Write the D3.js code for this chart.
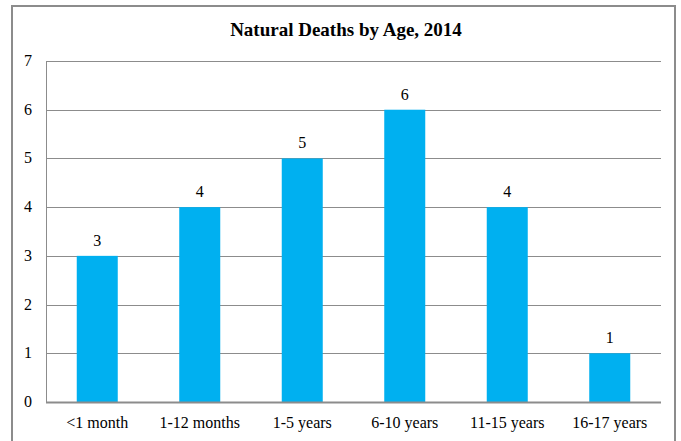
<!DOCTYPE html>
<html>
<head>
<meta charset="utf-8">
<script src="https://cdn.jsdelivr.net/npm/d3@7"></script>
<style>
  body { margin: 0; background: #fff; }
  text { font-family: "Liberation Serif", "DejaVu Serif", serif; fill: #000; }
</style>
</head>
<body>
<svg id="canvas" width="681" height="441"></svg>
<script>
// data
var categories = ['<1 month', '1-12 months', '1-5 years', '6-10 years', '11-15 years', '16-17 years'];
var deaths = [3, 4, 5, 6, 4, 1];
var yTicks = [0, 1, 2, 3, 4, 5, 6, 7];
var title = 'Natural Deaths by Age, 2014';

var svg = d3.select('#canvas');

// outer chart border (bottom edge runs off the picture)
svg.append('rect')
  .attr('x', 12).attr('y', 6).attr('width', 663).attr('height', 450)
  .attr('fill', '#fff').attr('stroke', '#8c8c8c').attr('stroke-width', 2);

var plot_l = 46, plot_r = 661, plot_t = 61, plot_b = 402;

var x = d3.scaleBand().domain(categories).range([plot_l, plot_r]).paddingInner(0.6).paddingOuter(0.3);
var y = d3.scaleLinear().domain([0, 7]).range([plot_b, plot_t]);

// gridlines
svg.append('g').selectAll('line').data(yTicks.filter(function(d){ return d > 0; })).join('line')
  .attr('x1', plot_l).attr('x2', plot_r)
  .attr('y1', function(d){ return Math.round(y(d)) + 0.5; })
  .attr('y2', function(d){ return Math.round(y(d)) + 0.5; })
  .attr('stroke', '#8c8c8c').attr('stroke-width', 1);

// bars
svg.append('g').selectAll('rect').data(deaths).join('rect')
  .attr('x', function(d, i){ return x(categories[i]); })
  .attr('width', x.bandwidth())
  .attr('y', function(d){ return y(d); })
  .attr('height', function(d){ return plot_b - y(d); })
  .attr('fill', '#00b0f0');

// value labels
svg.append('g').selectAll('text').data(deaths).join('text')
  .attr('x', function(d, i){ return x(categories[i]) + x.bandwidth() / 2; })
  .attr('y', function(d){ return y(d) - 10; })
  .attr('text-anchor', 'middle')
  .style('font-size', '16px')
  .text(function(d){ return d; });

// axis lines
svg.append('line').attr('x1', plot_l + 0.5).attr('x2', plot_l + 0.5).attr('y1', plot_t).attr('y2', plot_b)
  .attr('stroke', '#8c8c8c').attr('stroke-width', 1);
svg.append('line').attr('x1', plot_l).attr('x2', plot_r).attr('y1', plot_b + 0.5).attr('y2', plot_b + 0.5)
  .attr('stroke', '#8c8c8c').attr('stroke-width', 2);

// y tick labels
svg.append('g').selectAll('text').data(yTicks).join('text')
  .attr('x', 32).attr('y', function(d){ return y(d) + 5; })
  .attr('text-anchor', 'end')
  .style('font-size', '16px')
  .text(function(d){ return d; });

// x tick labels
svg.append('g').selectAll('text').data(categories).join('text')
  .attr('x', function(d){ return x(d) + x.bandwidth() / 2; })
  .attr('y', 428)
  .attr('text-anchor', 'middle')
  .style('font-size', '16px')
  .text(function(d){ return d; });

// title
svg.append('text').attr('x', 346).attr('y', 36)
  .attr('text-anchor', 'middle')
  .style('font-size', '19px').style('font-weight', 'bold')
  .text(title);
</script>
</body>
</html>
